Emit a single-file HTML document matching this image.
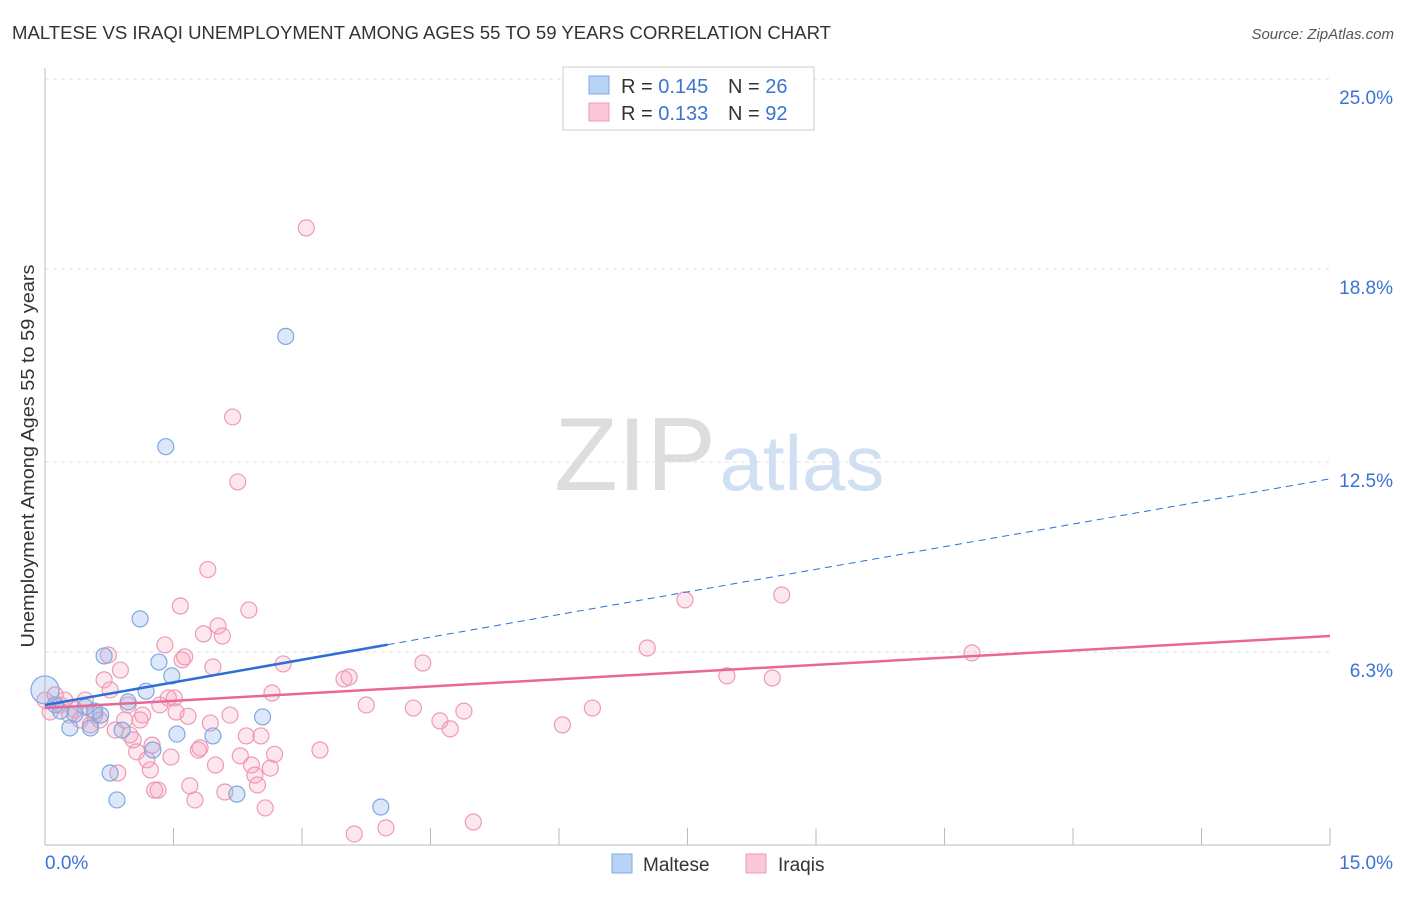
<!DOCTYPE html>
<html><head><meta charset="utf-8"><style>
body{margin:0;background:#fff;font-family:"Liberation Sans",sans-serif;}
svg text{font-family:"Liberation Sans",sans-serif;}
</style></head><body>
<svg width="1406" height="892" xmlns="http://www.w3.org/2000/svg">
<text x="12" y="39" font-size="18" fill="#333" textLength="819" lengthAdjust="spacingAndGlyphs">MALTESE VS IRAQI UNEMPLOYMENT AMONG AGES 55 TO 59 YEARS CORRELATION CHART</text>
<text x="1394" y="39" font-size="15" fill="#555" font-style="italic" text-anchor="end">Source: ZipAtlas.com</text>
<g id="grid"></g>
<g><text x="635" y="490" font-size="104" fill="#ddd" font-family="Liberation Serif" text-anchor="middle">ZIP</text><text x="802" y="490" font-size="78" fill="#d0dff2" text-anchor="middle">atlas</text></g>
<line x1="45" y1="68" x2="45" y2="845" stroke="#bbb"/>
<line x1="45" y1="845" x2="1330" y2="845" stroke="#bbb"/>
<text x="34" y="456" font-size="18" fill="#333" text-anchor="middle" textLength="383" lengthAdjust="spacingAndGlyphs" transform="rotate(-90 34 456)">Unemployment Among Ages 55 to 59 years</text>
<text x="45" y="869" font-size="19" fill="#3b73d4">0.0%</text>
<text x="1393" y="869" font-size="19" fill="#3b73d4" text-anchor="end">15.0%</text>
<g id="pts"></g>
<g id="lines"></g>
<g>
<rect x="563" y="67" width="251" height="63" fill="#fff" stroke="#ccc"/>
<rect x="589" y="76" width="20" height="18" fill="#b8d3f5" stroke="#7fa8e0"/>
<rect x="589" y="103" width="20" height="18" fill="#f9c7d6" stroke="#ef9ab4"/>
<text x="621" y="93" font-size="20" fill="#333">R = <tspan fill="#3b73d4">0.145</tspan></text>
<text x="728" y="93" font-size="20" fill="#333">N = <tspan fill="#3b73d4">26</tspan></text>
<text x="621" y="120" font-size="20" fill="#333">R = <tspan fill="#3b73d4">0.133</tspan></text>
<text x="728" y="120" font-size="20" fill="#333">N = <tspan fill="#3b73d4">92</tspan></text>
</g>
<g>
<rect x="612" y="854" width="20" height="19" fill="#b8d3f5" stroke="#7fa8e0"/>
<text x="643" y="871" font-size="19" fill="#333">Maltese</text>
<rect x="746" y="854" width="20" height="19" fill="#f9c7d6" stroke="#ef9ab4"/>
<text x="778" y="871" font-size="19" fill="#333">Iraqis</text>
</g>
</svg>
<script>
const yTicks=[25.0,18.8,12.5,6.3];
const yTickLabels=["25.0%","18.8%","12.5%","6.3%"];
const xTicks=[0,1.5,3,4.5,6,7.5,9,10.5,12,13.5,15];
const malteseX=[0,0.12,0.29,0.53,0.65,0.69,0.76,0.84,0.9,0.97,1.11,1.18,1.26,1.33,1.41,1.48,1.54,1.96,2.24,2.54,2.81,3.92,0.18,0.47,0.35,0.58];
const malteseY=[5.06,4.57,3.82,3.82,4.24,6.17,2.35,1.47,3.75,4.67,7.38,5.02,3.10,5.97,13.0,5.52,3.62,3.56,1.66,4.18,16.6,1.24,4.37,4.50,4.27,4.37];
const iraqiX=[0,0.06,0.12,0.18,0.23,0.29,0.35,0.41,0.47,0.53,0.58,0.64,0.69,0.74,0.76,0.82,0.85,0.88,0.93,0.97,0.99,1.03,1.07,1.11,1.14,1.19,1.23,1.25,1.28,1.32,1.34,1.4,1.44,1.47,1.51,1.53,1.58,1.6,1.63,1.67,1.69,1.75,1.79,1.81,1.85,1.9,1.93,1.96,1.99,2.02,2.07,2.1,2.16,2.19,2.25,2.28,2.35,2.38,2.41,2.45,2.48,2.52,2.57,2.63,2.65,2.68,2.78,3.05,3.21,3.49,3.55,3.61,3.75,3.98,4.3,4.41,4.61,4.73,4.89,5.0,6.04,6.39,7.03,7.47,7.96,8.49,8.6,10.82];
const iraqiY=[4.73,4.34,4.9,4.57,4.73,4.24,4.41,4.08,4.73,3.92,4.24,4.08,5.39,6.2,5.06,3.75,2.35,5.71,4.08,4.57,3.59,3.43,3.04,4.08,4.24,2.78,2.45,3.26,1.79,1.79,4.57,6.53,4.8,2.87,4.8,4.34,7.8,6.04,6.14,4.2,1.93,1.47,3.1,3.17,6.89,8.99,3.98,5.81,2.61,7.15,6.82,1.73,4.24,13.97,11.85,2.91,3.56,7.67,2.61,2.28,1.96,3.56,1.21,2.51,4.96,2.96,5.91,20.14,3.1,5.42,5.48,0.36,4.57,0.56,4.47,5.94,4.05,3.79,4.37,0.75,3.92,4.47,6.43,8.0,5.52,5.45,8.16,6.27];
const blueLine=[4.57,11.95], blueSolidEnd=4.0;
const pinkLine=[4.47,6.82];
const X0=45,X1=1330,YB=845,PPY=30.64;
const sx=v=>X0+v/15*(X1-X0), sy=v=>YB-v*PPY;
const NS="http://www.w3.org/2000/svg";
function mk(t,a,p){const e=document.createElementNS(NS,t);for(const k in a)e.setAttribute(k,a[k]);p.appendChild(e);return e;}
const g=document.getElementById('grid');
yTicks.forEach((v,i)=>{
 const l=mk('line',{x1:45,x2:1330,y1:sy(v),y2:sy(v),stroke:'#e2e2e2','stroke-dasharray':'4,4'},g);
 
 
 const t=mk('text',{x:1393,y:sy(v)+25,'font-size':19,fill:'#3b73d4','text-anchor':'end'},g);
 t.textContent=yTickLabels[i];
 
 
});
xTicks.forEach(v=>{
 const l=mk('line',{x1:sx(v),x2:sx(v),y1:828,y2:845,stroke:'#bbb'},g);
 
 
});
const P=document.getElementById('pts');
iraqiX.forEach((x,i)=>{
 const c=mk('circle',{cx:sx(x),cy:sy(iraqiY[i]),r:8,fill:'rgba(244,160,188,0.25)',stroke:'#ef9ab4','stroke-width':1.2},P);
 
 
});
malteseX.forEach((x,i)=>{
 const c=mk('circle',{cx:sx(x),cy:sy(malteseY[i]),r:i==0?14:8,fill:'rgba(140,180,235,0.3)',stroke:'#7fa8e0','stroke-width':1.2},P);
 
 
});
const L=document.getElementById('lines');
const by=x=>blueLine[0]+(blueLine[1]-blueLine[0])*x/15;
let a=mk('line',{x1:sx(0),y1:sy(by(0)),x2:sx(blueSolidEnd),y2:sy(by(blueSolidEnd)),stroke:'#2d6fd6','stroke-width':2.5},L);


a=mk('line',{x1:sx(blueSolidEnd),y1:sy(by(blueSolidEnd)),x2:sx(15),y2:sy(by(15)),stroke:'#2d6fd6','stroke-width':1,'stroke-dasharray':'7,5'},L);


a=mk('line',{x1:sx(0),y1:sy(pinkLine[0]),x2:sx(15),y2:sy(pinkLine[1]),stroke:'#e8679a','stroke-width':2.5},L);


</script>
</body></html>
